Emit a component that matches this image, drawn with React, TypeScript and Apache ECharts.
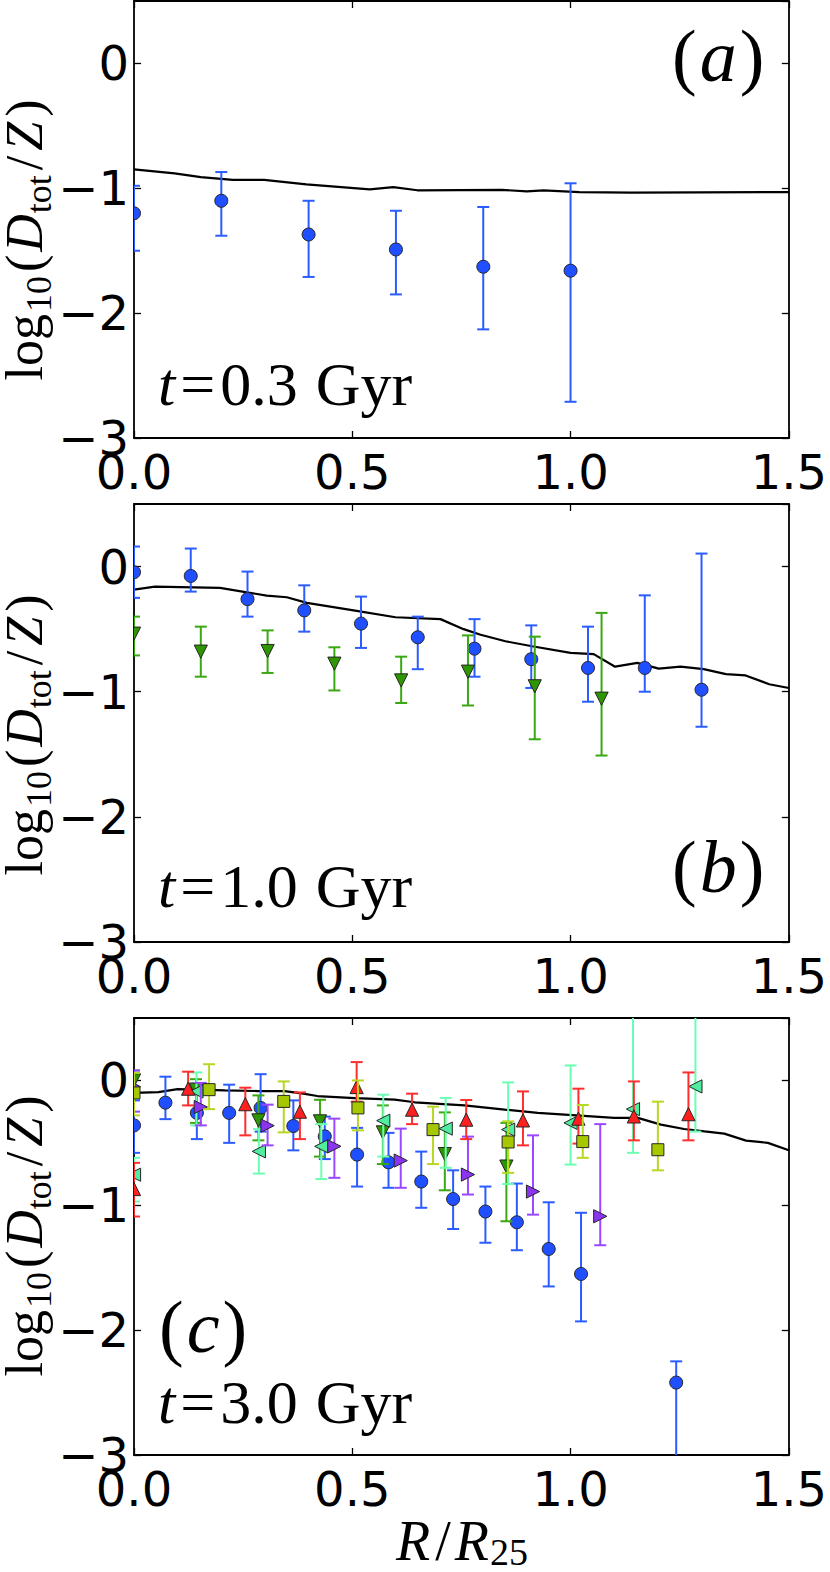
import React, { useEffect, useRef } from "react";
import * as echarts from "echarts";

// ---------------- axes ----------------
const X_MIN = 0;
const X_MAX = 1.5;
const X_STEP = 0.5;
const Y_MIN = -3;
const Y_MAX = 0.5;
const Y_STEP = 1;

// ---------------- panel (a): t = 0.3 Gyr ----------------
const aModelX = [0, 0.093, 0.153, 0.226, 0.298, 0.395, 0.54, 0.594, 0.649, 0.842, 0.9, 0.938, 1.02, 1.14, 1.5];
const aModelY = [-0.848, -0.88, -0.91, -0.933, -0.933, -0.968, -1.008, -0.99, -1.016, -1.013, -1.024, -1.016, -1.03, -1.035, -1.03];
const aBlueX = [0, 0.2, 0.4, 0.6, 0.8, 1.0];
const aBlueY = [-1.2, -1.1, -1.37, -1.49, -1.62, -1.66];
const aBlueHi = [-0.98, -0.87, -1.1, -1.18, -1.15, -0.96];
const aBlueLo = [-1.5, -1.38, -1.71, -1.85, -2.13, -2.71];

// ---------------- panel (b): t = 1.0 Gyr ----------------
const bModelX = [0, 0.048, 0.197, 0.304, 0.35, 0.396, 0.503, 0.599, 0.702, 0.755, 0.794, 0.851, 0.912, 1.0, 1.053, 1.102, 1.153, 1.202, 1.252, 1.305, 1.356, 1.401, 1.455, 1.5];
const bModelY = [-0.184, -0.16, -0.17, -0.232, -0.245, -0.29, -0.35, -0.405, -0.42, -0.5, -0.545, -0.597, -0.637, -0.69, -0.7, -0.8, -0.77, -0.815, -0.8, -0.82, -0.86, -0.87, -0.94, -0.97];
const bBlueX = [0, 0.13, 0.26, 0.39, 0.52, 0.65, 0.78, 0.91, 1.04, 1.17, 1.3];
const bBlueY = [-0.045, -0.075, -0.26, -0.35, -0.456, -0.565, -0.656, -0.74, -0.81, -0.81, -0.984];
const bBlueHi = [0.16, 0.144, -0.04, -0.15, -0.24, -0.4, -0.42, -0.47, -0.48, -0.23, 0.104];
const bBlueLo = [-0.25, -0.2, -0.4, -0.52, -0.65, -0.82, -0.88, -0.97, -1.08, -1.0, -1.28];
const bGreenX = [0, 0.153, 0.306, 0.459, 0.612, 0.765, 0.918, 1.071];
const bGreenY = [-0.536, -0.68, -0.675, -0.776, -0.91, -0.84, -0.957, -1.056];
const bGreenHi = [-0.4, -0.48, -0.51, -0.645, -0.72, -0.55, -0.56, -0.37];
const bGreenLo = [-0.71, -0.88, -0.85, -0.99, -1.09, -1.11, -1.38, -1.51];

// ---------------- panel (c): t = 3.0 Gyr ----------------
const cModelX = [0, 0.056, 0.1, 0.208, 0.284, 0.345, 0.384, 0.42, 0.506, 0.597, 0.643, 0.757, 0.849, 0.925, 1.013, 1.1, 1.154, 1.207, 1.26, 1.307, 1.352, 1.402, 1.452, 1.5];
const cModelY = [-0.1, -0.094, -0.07, -0.08, -0.085, -0.085, -0.104, -0.125, -0.141, -0.154, -0.175, -0.2, -0.234, -0.26, -0.28, -0.3, -0.3, -0.354, -0.389, -0.408, -0.426, -0.482, -0.5, -0.559];
const cBlueX = [0, 0.072, 0.144, 0.218, 0.29, 0.365, 0.437, 0.511, 0.583, 0.658, 0.731, 0.805, 0.877, 0.95, 1.024, 1.242];
const cBlueY = [-0.36, -0.178, -0.26, -0.26, -0.22, -0.365, -0.448, -0.594, -0.656, -0.81, -0.95, -1.05, -1.136, -1.35, -1.55, -2.42];
const cBlueHi = [-0.16, 0.03, -0.026, -0.034, 0.05, -0.16, -0.29, -0.38, -0.42, -0.57, -0.72, -0.85, -0.826, -0.976, -1.06, -2.25];
const cBlueLo = [-0.58, -0.31, -0.47, -0.5, -0.41, -0.56, -0.63, -0.85, -0.86, -1.02, -1.19, -1.3, -1.36, -1.65, -1.93, -3.4];
const cGreenX = [0, 0.142, 0.285, 0.426, 0.57, 0.712, 0.853];
const cGreenY = [0.0, -0.074, -0.32, -0.328, -0.416, -0.59, -0.69];
const cGreenHi = [0.08, 0.01, -0.12, -0.155, -0.2, -0.256, -0.34];
const cGreenLo = [-0.1, -0.34, -0.48, -0.61, -0.67, -0.88, -1.128];
const cAquaX = [0, 0.143, 0.286, 0.429, 0.571, 0.714, 0.857, 1.0, 1.143, 1.286];
const cAquaY = [-0.755, -0.088, -0.568, -0.528, -0.322, -0.386, -0.394, -0.34, -0.23, -0.048];
const cAquaHi = [-0.62, 0.064, -0.39, -0.35, -0.114, -0.14, -0.016, 0.12, 0.8, 0.8];
const cAquaLo = [-0.97, -0.36, -0.746, -0.79, -0.61, -0.7, -0.83, -0.674, -0.58, -0.41];
const cPurpleX = [0, 0.153, 0.306, 0.459, 0.611, 0.765, 0.914, 1.068];
const cPurpleY = [-0.05, -0.213, -0.362, -0.528, -0.642, -0.754, -0.89, -1.088];
const cPurpleHi = [0.08, -0.02, -0.194, -0.306, -0.386, -0.45, -0.44, -0.35];
const cPurpleLo = [-0.25, -0.36, -0.52, -0.78, -0.86, -0.914, -1.075, -1.32];
const cRedX = [0, 0.124, 0.255, 0.38, 0.51, 0.637, 0.761, 0.891, 1.018, 1.145, 1.27];
const cRedY = [-0.87, -0.066, -0.19, -0.25, -0.053, -0.234, -0.314, -0.32, -0.306, -0.288, -0.27];
const cRedHi = [-0.66, 0.07, -0.058, -0.096, 0.147, -0.106, -0.157, -0.088, -0.066, -0.008, 0.064];
const cRedLo = [-1.09, -0.2, -0.44, -0.47, -0.17, -0.35, -0.47, -0.52, -0.506, -0.48, -0.48];
const cYellowX = [0, 0.172, 0.343, 0.513, 0.685, 0.857, 1.028, 1.2];
const cYellowY = [-0.1, -0.074, -0.168, -0.22, -0.394, -0.493, -0.49, -0.555];
const cYellowHi = [0.06, 0.13, -0.008, 0.0, -0.21, -0.328, -0.197, -0.17];
const cYellowLo = [-0.28, -0.23, -0.416, -0.4, -0.67, -0.74, -0.62, -0.72];

// ---------------- texts ----------------
const PANEL_TAGS = ["a", "b", "c"];
const TIME_LABELS = ["0.3", "1.0", "3.0"];

// ---------------- styling ----------------
const SERIF = "'Liberation Serif', 'Times New Roman', serif";
const SANS = "'DejaVu Sans', sans-serif";
const GRIDS = [
  { left: 134, top: 1, width: 655, height: 437 },
  { left: 134, top: 504, width: 655, height: 438 },
  { left: 134, top: 1018, width: 655, height: 437 },
];
const COL = {
  blue: ["#1f4fff", "#2a5cff"],
  green: ["#2e9600", "#3aa812"],
  red: ["#ff1f1f", "#ff2e2e"],
  yellow: ["#a6c800", "#b8d624"],
  aqua: ["#50eca0", "#6bffb4"],
  purple: ["#8a33f0", "#9a48ff"],
};
const CAP = 6;

type Shape = "circle" | "square" | "up" | "down" | "left" | "right";

function markerEl(shape: Shape, cx: number, cy: number, fill: string) {
  const st = { fill, stroke: "#262626", lineWidth: 1 };
  const r = 6.6;
  switch (shape) {
    case "circle":
      return { type: "circle", shape: { cx, cy, r: 6.5 }, style: st };
    case "square":
      return { type: "rect", shape: { x: cx - 6, y: cy - 6, width: 12, height: 12 }, style: st };
    case "up":
      return { type: "polygon", shape: { points: [[cx, cy - r], [cx - r, cy + r], [cx + r, cy + r]] }, style: st };
    case "down":
      return { type: "polygon", shape: { points: [[cx, cy + r], [cx - r, cy - r], [cx + r, cy - r]] }, style: st };
    case "left":
      return { type: "polygon", shape: { points: [[cx - r, cy], [cx + r, cy - r], [cx + r, cy + r]] }, style: st };
    default:
      return { type: "polygon", shape: { points: [[cx + r, cy], [cx - r, cy - r], [cx - r, cy + r]] }, style: st };
  }
}

function errSeries(grid: number, xs: number[], ys: number[], hi: number[], lo: number[], col: string[], shape: Shape) {
  return {
    type: "custom",
    xAxisIndex: grid * 2,
    yAxisIndex: grid * 2,
    clip: true,
    z: 3,
    silent: true,
    data: xs.map((x, i) => [x, ys[i], hi[i], lo[i]]),
    encode: { x: 0, y: 1 },
    renderItem: (_params: any, api: any) => {
      const x = api.value(0);
      const c = api.coord([x, api.value(1)]);
      const h = api.coord([x, api.value(2)]);
      const l = api.coord([x, api.value(3)]);
      const es = { stroke: col[1], lineWidth: 2 };
      return {
        type: "group",
        children: [
          { type: "line", shape: { x1: h[0], y1: h[1], x2: l[0], y2: l[1] }, style: es },
          { type: "line", shape: { x1: h[0] - CAP, y1: h[1], x2: h[0] + CAP, y2: h[1] }, style: es },
          { type: "line", shape: { x1: l[0] - CAP, y1: l[1], x2: l[0] + CAP, y2: l[1] }, style: es },
          markerEl(shape, c[0], c[1], col[0]),
        ],
      };
    },
  };
}

function modelSeries(grid: number, xs: number[], ys: number[]) {
  return {
    type: "line",
    xAxisIndex: grid * 2,
    yAxisIndex: grid * 2,
    data: xs.map((x, i) => [x, ys[i]]),
    showSymbol: false,
    symbol: "none",
    clip: true,
    silent: true,
    z: 2,
    lineStyle: { color: "#000", width: 2.2 },
  };
}

type Seg = { t: string; size: number; italic?: boolean; dy?: number; pre?: number };

function mathGroup(segs: Seg[], x: number, y: number, anchor: "left" | "center", rotation = 0) {
  const ctx = document.createElement("canvas").getContext("2d") as CanvasRenderingContext2D;
  let cur = 0;
  const placed = segs.map((s) => {
    ctx.font = `${s.italic ? "italic " : ""}${s.size}px ${SERIF}`;
    const w = ctx.measureText(s.t).width;
    const x0 = cur + (s.pre ?? 0);
    cur = x0 + w;
    return { s, x0 };
  });
  const shift = anchor === "left" ? 0 : -cur / 2;
  return {
    type: "group",
    x,
    y,
    rotation,
    silent: true,
    children: placed.map(({ s, x0 }) => ({
      type: "text",
      x: x0 + shift,
      y: (s.dy ?? 0) - 0.34 * s.size,
      silent: true,
      style: {
        text: s.t,
        fontSize: s.size,
        fontFamily: SERIF,
        fontStyle: s.italic ? "italic" : "normal",
        fill: "#000",
        align: "left",
        verticalAlign: "middle",
        textAlign: "left",
        textVerticalAlign: "middle",
      },
    })),
  };
}

const yLabelSegs = (): Seg[] => [
  { t: "log", size: 52 },
  { t: "10", size: 36, dy: 9, pre: 2 },
  { t: "(", size: 52, pre: 4 },
  { t: "D", size: 52, italic: true, pre: 3 },
  { t: "tot", size: 36, dy: 9, pre: 1 },
  { t: "/", size: 52, pre: 5 },
  { t: "Z", size: 52, italic: true, pre: 5 },
  { t: ")", size: 52, pre: 5 },
];
const tagSegs = (tag: string): Seg[] => [
  { t: "(", size: 74 },
  { t: tag, size: 74, italic: true, pre: 3 },
  { t: ")", size: 74, pre: 3 },
];
const timeSegs = (v: string): Seg[] => [
  { t: "t", size: 62, italic: true },
  { t: "=", size: 62, pre: 5 },
  { t: v, size: 62, pre: 5 },
  { t: "Gyr", size: 62, pre: 18 },
];

export default function App() {
  const ref = useRef<HTMLDivElement>(null);
  useEffect(() => {
    document.body.style.margin = "0";
    if (!ref.current) return;
    const chart = echarts.init(ref.current, null, { renderer: "svg", width: 830, height: 1572 });

    const axisLine = { show: true, onZero: false, lineStyle: { color: "#000", width: 1.8 } };
    const axisTick = { show: true, inside: true, length: 7, lineStyle: { color: "#000", width: 1.3 } };
    const xAxis: any[] = [];
    const yAxis: any[] = [];
    GRIDS.forEach((_g, i) => {
      xAxis.push({
        gridIndex: i, type: "value", position: "bottom", min: X_MIN, max: X_MAX, interval: X_STEP,
        axisLine, axisTick, splitLine: { show: false },
        axisLabel: {
          show: true, margin: 10, fontSize: 48, lineHeight: 48, fontFamily: SANS, color: "#000",
          formatter: (v: number) => v.toFixed(1),
        },
      });
      xAxis.push({
        gridIndex: i, type: "value", position: "top", min: X_MIN, max: X_MAX, interval: X_STEP,
        axisLine, axisTick, splitLine: { show: false }, axisLabel: { show: false },
      });
      yAxis.push({
        gridIndex: i, type: "value", position: "left", min: Y_MIN, max: Y_MAX, interval: Y_STEP,
        axisLine, axisTick, splitLine: { show: false },
        axisLabel: {
          show: true, margin: 5, fontSize: 48, fontFamily: SANS, color: "#000", showMaxLabel: false,
          formatter: (v: number) => (v < 0 ? "\u2212" + Math.abs(v) : String(v)),
        },
      });
      yAxis.push({
        gridIndex: i, type: "value", position: "right", min: Y_MIN, max: Y_MAX, interval: Y_STEP,
        axisLine, axisTick, splitLine: { show: false }, axisLabel: { show: false },
      });
    });

    const series: any[] = [
      modelSeries(0, aModelX, aModelY),
      errSeries(0, aBlueX, aBlueY, aBlueHi, aBlueLo, COL.blue, "circle"),
      modelSeries(1, bModelX, bModelY),
      errSeries(1, bBlueX, bBlueY, bBlueHi, bBlueLo, COL.blue, "circle"),
      errSeries(1, bGreenX, bGreenY, bGreenHi, bGreenLo, COL.green, "down"),
      modelSeries(2, cModelX, cModelY),
      errSeries(2, cBlueX, cBlueY, cBlueHi, cBlueLo, COL.blue, "circle"),
      errSeries(2, cGreenX, cGreenY, cGreenHi, cGreenLo, COL.green, "down"),
      errSeries(2, cAquaX, cAquaY, cAquaHi, cAquaLo, COL.aqua, "left"),
      errSeries(2, cPurpleX, cPurpleY, cPurpleHi, cPurpleLo, COL.purple, "right"),
      errSeries(2, cRedX, cRedY, cRedHi, cRedLo, COL.red, "up"),
      errSeries(2, cYellowX, cYellowY, cYellowHi, cYellowLo, COL.yellow, "square"),
    ];

    const yLabelCenters = [240, 735, 1236];
    const tagPos = [[672, 81], [672, 892], [159, 1352]];
    const timeBase = [405, 907, 1423];
    const graphic: any[] = [];
    GRIDS.forEach((_g, i) => {
      graphic.push(mathGroup(yLabelSegs(), 42, yLabelCenters[i], "center", Math.PI / 2));
      graphic.push(mathGroup(tagSegs(PANEL_TAGS[i]), tagPos[i][0], tagPos[i][1], "left"));
      graphic.push(mathGroup(timeSegs(TIME_LABELS[i]), 158, timeBase[i], "left"));
    });
    graphic.push(
      mathGroup(
        [
          { t: "R", size: 56, italic: true },
          { t: "/", size: 56, pre: 5 },
          { t: "R", size: 56, italic: true, pre: 4 },
          { t: "25", size: 38, dy: 5, pre: 1 },
        ],
        462, 1560, "center"
      )
    );

    chart.setOption({
      animation: false,
      backgroundColor: "#fff",
      grid: GRIDS,
      xAxis,
      yAxis,
      series,
      graphic,
    });
    return () => chart.dispose();
  }, []);
  return <div ref={ref} style={{ width: 830, height: 1572 }} />;
}
